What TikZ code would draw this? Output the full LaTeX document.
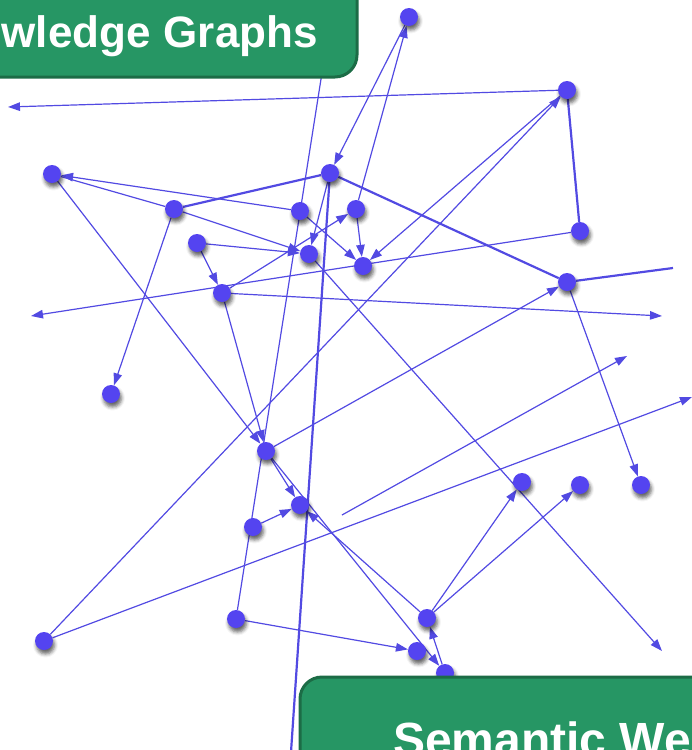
\documentclass[tikz,border=0pt]{standalone}
\usepackage{fontspec}
\newfontfamily\labfont{Liberation Sans}
\usetikzlibrary{arrows.meta,shadows.blur,backgrounds}
\definecolor{nodec}{RGB}{84,68,240}
\definecolor{edgec}{RGB}{82,74,226}
\definecolor{lblfill}{RGB}{38,150,100}
\definecolor{lbldraw}{RGB}{28,108,70}
\begin{document}
\begin{tikzpicture}[x=1pt,y=-1pt,
  dot/.style={circle, fill=nodec, minimum size=18pt, inner sep=0pt,
    blur shadow={shadow xshift=1.5pt, shadow yshift=-4pt, shadow blur radius=3.5pt, shadow opacity=60}},
  ln/.style={draw=edgec, line width=1.2pt},
  arr/.style={ln, -{Triangle[length=12pt,width=8.5pt]}},
  heavy/.style={draw=edgec, line width=2.2pt},
  lbl/.style={fill=lblfill, draw=lbldraw, line width=3pt, rounded corners=22pt},
  lbltext/.style={text=white, inner sep=0pt}]
\useasboundingbox (0,0) rectangle (692,750);

% nodes
\node[dot] (n1) at (409,17) {};
\node[dot] (n2) at (567,90) {};
\node[dot] (n3) at (52,174) {};
\node[dot] (n4) at (330,173) {};
\node[dot] (n5) at (174,209) {};
\node[dot] (n6) at (300,211) {};
\node[dot] (n7) at (356,209) {};
\node[dot] (n8) at (580,231) {};
\node[dot] (n9) at (197,243) {};
\node[dot] (n10) at (309,254) {};
\node[dot] (n11) at (363,266) {};
\node[dot] (n12) at (222,293) {};
\node[dot] (n13) at (567,282) {};
\node[dot] (n14) at (111,394) {};
\node[dot] (n15) at (266,451) {};
\node[dot] (n16) at (522,482) {};
\node[dot] (n17) at (580,485) {};
\node[dot] (n18) at (641,485) {};
\node[dot] (n19) at (300,505) {};
\node[dot] (n20) at (253,527) {};
\node[dot] (n21) at (44,641) {};
\node[dot] (n22) at (236,619) {};
\node[dot] (n23) at (427,618) {};
\node[dot] (n24) at (417,651) {};
\node[dot] (n25) at (445,673) {};

% free ends
\coordinate (c1) at (8,107);
\coordinate (c2) at (673,268);
\coordinate (c3) at (291,752);
\coordinate (c4) at (662,316);
\coordinate (c5) at (31,316);
\coordinate (c6) at (662,651);
\coordinate (c7) at (692,397);
\coordinate (c8) at (342,515);
\coordinate (c9) at (627,356);
\coordinate (c10) at (324,60);

\begin{scope}[on background layer]
  % heavy lines
  \draw[heavy] (n5) -- (n4);
  \draw[heavy] (n4) -- (n13);
  \draw[heavy] (n13) -- (c2);
  \draw[heavy] (n2) -- (n8);
  \draw[heavy] (n4) -- (c3);
  % plain lines
  \draw[ln] (n22) -- (c10);
  \draw[ln] (n5) -- (n3);
  % arrows
  \draw[arr] (n2) -- (c1);
  \draw[arr] (n1) -- (n4);
  \draw[arr] (n7) -- (n1);
  \draw[arr] (n21) -- (n2);
  \draw[arr] (n2) -- (n11);
  \draw[arr] (n4) -- (n10);
  \draw[arr] (n6) -- (n3);
  \draw[arr] (n3) -- (n15);
  \draw[arr] (n5) -- (n14);
  \draw[arr] (n5) -- (n10);
  \draw[arr] (n9) -- (n10);
  \draw[arr] (n6) -- (n11);
  \draw[arr] (n7) -- (n11);
  \draw[arr] (n12) -- (n7);
  \draw[arr] (n9) -- (n12);
  \draw[arr] (n12) -- (n15);
  \draw[arr] (n12) -- (c4);
  \draw[arr] (n8) -- (c5);
  \draw[arr] (n10) -- (c6);
  \draw[arr] (n13) -- (n18);
  \draw[arr] (n15) -- (n13);
  \draw[arr] (n15) -- (n19);
  \draw[arr] (n15) -- (n25);
  \draw[arr] (n23) -- (n19);
  \draw[arr] (n20) -- (n19);
  \draw[arr] (n22) -- (n24);
  \draw[arr] (n25) -- (n23);
  \draw[arr] (n23) -- (n16);
  \draw[arr] (n23) -- (n17);
  \draw[arr] (n21) -- (c7);
  \draw[arr] (c8) -- (c9);
\end{scope}

% labels
\draw[lbl] (-40,-40) rectangle (357,77);
\node[lbltext, anchor=base east, font=\labfont\bfseries\fontsize{44}{50}\selectfont] (t1) at (318,47) {Knowledge\hspace{13pt}Graphs};
\draw[lbl] (300,677) rectangle (780,820);
\node[lbltext, anchor=base west, font=\labfont\bfseries\fontsize{48}{56}\selectfont] (t2) at (393,756) {Semantic Web};
\end{tikzpicture}
\end{document}
